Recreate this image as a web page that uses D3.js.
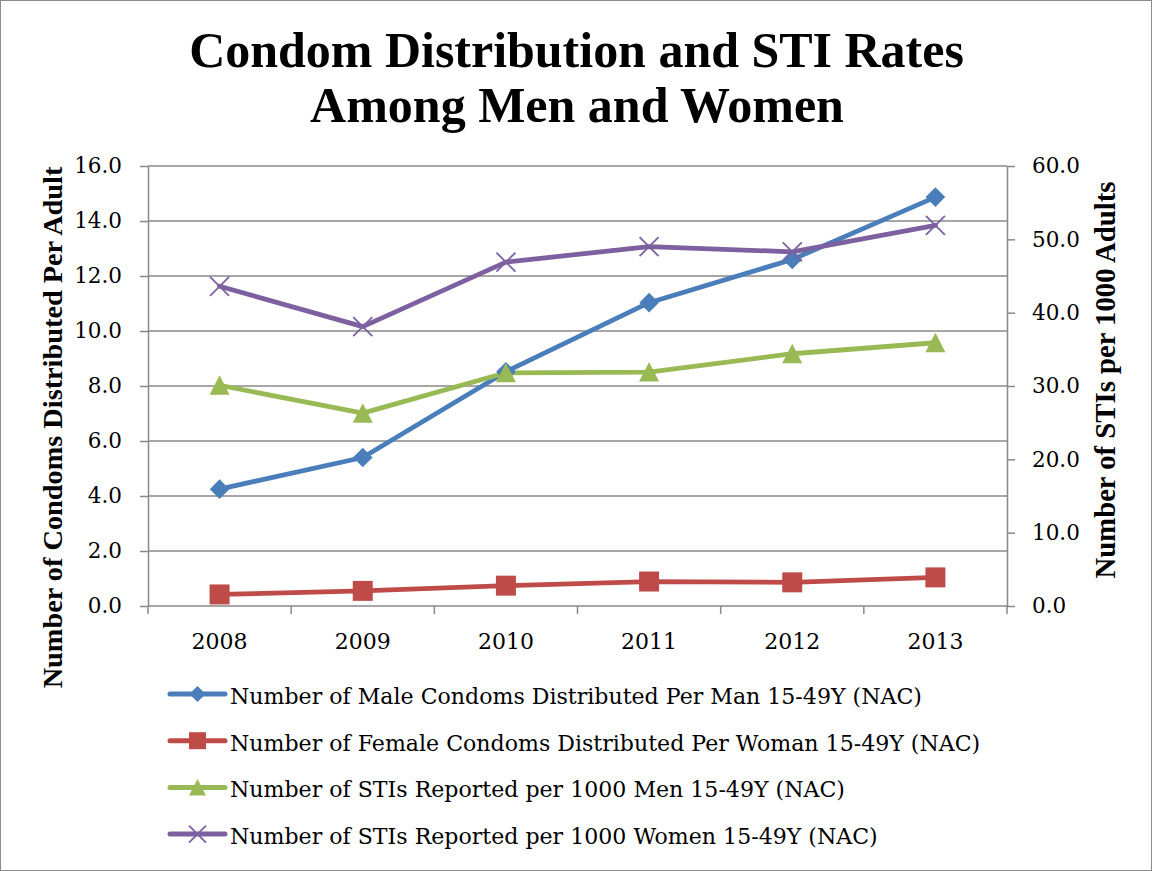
<!DOCTYPE html>
<html>
<head>
<meta charset="utf-8">
<script src="https://cdn.jsdelivr.net/npm/d3@7"></script>
<style>
  html, body { margin: 0; padding: 0; background: #fff; }
  svg { display: block; }
</style>
</head>
<body>
<script>
// ---- data ----
const years = ['2008', '2009', '2010', '2011', '2012', '2013'];
const maleCondoms = [4.25, 5.40, 8.52, 11.03, 12.60, 14.87];
const femaleCondoms = [0.42, 0.55, 0.74, 0.89, 0.86, 1.04];
const stiMen = [30.1, 26.3, 31.8, 31.9, 34.4, 35.9];
const stiWomen = [43.6, 38.1, 46.9, 49.0, 48.3, 51.9];
const leftTicks = [0, 2, 4, 6, 8, 10, 12, 14, 16];
const rightTicks = [0, 10, 20, 30, 40, 50, 60];
const seriesNames = [
  'Number of Male Condoms Distributed Per Man 15-49Y (NAC)',
  'Number of Female Condoms Distributed Per Woman 15-49Y (NAC)',
  'Number of STIs Reported per 1000 Men 15-49Y (NAC)',
  'Number of STIs Reported per 1000 Women 15-49Y (NAC)'
];
const titleLines = ['Condom Distribution and STI Rates', 'Among Men and Women'];
const leftTitle = 'Number of Condoms Distributed Per Adult';
const rightTitle = 'Number of STIs per 1000 Adults';

// ---- layout ----
const W = 1152, H = 871;
const L = 148, R = 1007, T = 166, B = 606;
const serif = "'DejaVu Serif', serif";
const boldSerif = "'Liberation Serif', 'Times New Roman', serif";
const gridColor = '#898989';

const svg = d3.select('body').append('svg').attr('width', W).attr('height', H);
svg.append('rect').attr('x', 0).attr('y', 0).attr('width', W).attr('height', H).attr('fill', '#fff');
svg.append('rect').attr('x', 0.5).attr('y', 0.5).attr('width', W - 1).attr('height', H - 1)
  .attr('fill', 'none').attr('stroke', '#8c8c8c').attr('stroke-width', 1);

const x = d3.scaleBand().domain(years).range([L, R]).padding(0);
const yL = d3.scaleLinear().domain([0, 16]).range([B, T]);
const yR = d3.scaleLinear().domain([0, 60]).range([B, T]);
const cx = d => x(d) + x.bandwidth() / 2;

function fitWidth(sel, w) {
  const cur = sel.node().getComputedTextLength();
  const fs = parseFloat(sel.attr('font-size'));
  sel.attr('font-size', fs * w / cur);
}

// gridlines
svg.append('g').selectAll('line').data(leftTicks).join('line')
  .attr('x1', L).attr('x2', R)
  .attr('y1', d => yL(d)).attr('y2', d => yL(d))
  .attr('stroke', gridColor).attr('stroke-width', 1.5);

// left axis
const gL = svg.append('g').attr('transform', `translate(${L},0)`)
  .call(d3.axisLeft(yL).tickValues(leftTicks).tickFormat(d3.format('.1f')).tickSize(8).tickSizeOuter(0).tickPadding(18));
// right axis
const gR = svg.append('g').attr('transform', `translate(${R},0)`)
  .call(d3.axisRight(yR).tickValues(rightTicks).tickFormat(d3.format('.1f')).tickSize(8).tickSizeOuter(0).tickPadding(17));
// bottom axis (labels)
const gB = svg.append('g').attr('transform', `translate(0,${B})`)
  .call(d3.axisBottom(x).tickSize(0).tickPadding(27));
gB.select('.domain').remove();
[gL, gR].forEach(g => {
  g.select('.domain').attr('stroke', gridColor).attr('stroke-width', 1.5);
  g.selectAll('.tick line').attr('stroke', gridColor).attr('stroke-width', 1.5);
});
[gL, gR, gB].forEach(g => {
  g.selectAll('.tick text').attr('font-family', serif).attr('font-size', 21.5).attr('fill', '#000');
});
gB.selectAll('.tick text').attr('font-size', 22);
// category boundary ticks
const bounds = years.map(d => x(d)).concat([x.range()[1]]);
svg.append('g').selectAll('line').data(bounds).join('line')
  .attr('x1', d => d).attr('x2', d => d)
  .attr('y1', B).attr('y2', B + 8)
  .attr('stroke', gridColor).attr('stroke-width', 1.5);

// series
const series = [
  { name: seriesNames[0], values: maleCondoms, scale: yL, color: '#4a7ebb', marker: 'diamond' },
  { name: seriesNames[1], values: femaleCondoms, scale: yL, color: '#be4b48', marker: 'square' },
  { name: seriesNames[2], values: stiMen, scale: yR, color: '#98b954', marker: 'triangle' },
  { name: seriesNames[3], values: stiWomen, scale: yR, color: '#7d60a0', marker: 'x' }
];

function markerPath(type, s) {
  // s = half size
  if (type === 'diamond') return `M0,${-s}L${s},0L0,${s}L${-s},0Z`;
  if (type === 'square') return `M${-s},${-s}H${s}V${s}H${-s}Z`;
  if (type === 'triangle') return `M0,${-s}L${s},${s * 0.95}L${-s},${s * 0.95}Z`;
  return `M${-s},${-s}L${s},${s}M${s},${-s}L${-s},${s}`;
}
const markerHalf = { diamond: 9.8, square: 10, triangle: 10, x: 9.5 };
const legendHalf = { diamond: 8, square: 8.5, triangle: 8.5, x: 8.5 };

function drawMarker(g, type, color, s) {
  const p = g.append('path').attr('d', markerPath(type, s));
  if (type === 'x') p.attr('fill', 'none').attr('stroke', color).attr('stroke-width', 1.8);
  else p.attr('fill', color).attr('stroke', 'none');
}

const line = d3.line();
series.forEach(s => {
  const pts = years.map((yr, i) => [cx(yr), s.scale(s.values[i])]);
  svg.append('path').attr('d', line(pts))
    .attr('fill', 'none').attr('stroke', s.color).attr('stroke-width', 4.8)
    .attr('stroke-linejoin', 'round').attr('stroke-linecap', 'round');
});
series.forEach(s => {
  years.forEach((yr, i) => {
    const g = svg.append('g').attr('transform', `translate(${cx(yr)},${s.scale(s.values[i])})`);
    drawMarker(g, s.marker, s.color, markerHalf[s.marker]);
  });
});

// title
const t1 = svg.append('text').attr('x', 576.5).attr('y', 67).attr('text-anchor', 'middle')
  .attr('font-family', boldSerif).attr('font-weight', 'bold').attr('font-size', 48).text(titleLines[0]);
fitWidth(t1, 775);
const t2 = svg.append('text').attr('x', 577).attr('y', 122).attr('text-anchor', 'middle')
  .attr('font-family', boldSerif).attr('font-weight', 'bold').attr('font-size', 48).text(titleLines[1]);
fitWidth(t2, 534);

// axis titles
const lt = svg.append('text').attr('transform', 'translate(62,427.5) rotate(-90)').attr('text-anchor', 'middle')
  .attr('font-family', boldSerif).attr('font-weight', 'bold').attr('font-size', 27).text(leftTitle);
fitWidth(lt, 522);
const rt = svg.append('text').attr('transform', 'translate(1115,380) rotate(-90)').attr('text-anchor', 'middle')
  .attr('font-family', boldSerif).attr('font-weight', 'bold').attr('font-size', 27).text(rightTitle);
fitWidth(rt, 397);

// legend
const legendY0 = 704, legendDy = 46.7;
let legendFont = 21;
series.forEach((s, i) => {
  const yb = legendY0 + i * legendDy;
  const g = svg.append('g');
  g.append('line').attr('x1', 170).attr('x2', 225).attr('y1', yb - 10).attr('y2', yb - 10)
    .attr('stroke', s.color).attr('stroke-width', 5).attr('stroke-linecap', 'round');
  const mg = g.append('g').attr('transform', `translate(197.5,${yb - 10})`);
  drawMarker(mg, s.marker, s.color, legendHalf[s.marker]);
  const tx = g.append('text').attr('x', 230).attr('y', yb)
    .attr('font-family', serif).attr('font-size', legendFont).attr('fill', '#000').text(s.name);
  if (i === 0) { fitWidth(tx, 692); legendFont = parseFloat(tx.attr('font-size')); }
});
</script>
</body>
</html>
